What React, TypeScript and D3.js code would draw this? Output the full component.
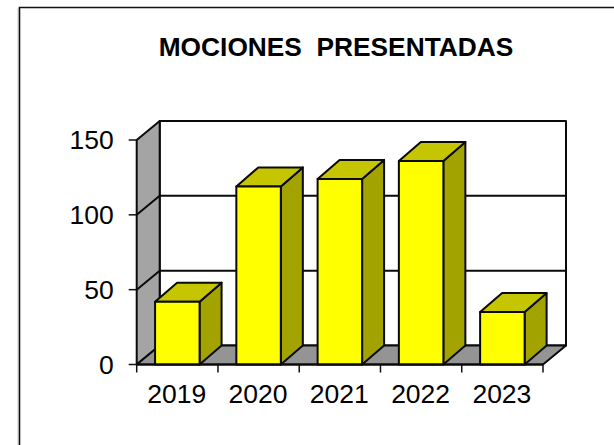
import React from "react";
import * as d3 from "d3";

const categories = ["2019", "2020", "2021", "2022", "2023"];
const values = [42, 119, 124, 136, 35];
const yTicks = [0, 50, 100, 150];
const title = "MOCIONES  PRESENTADAS";

const W = 614, H = 445;
const x0 = 136.7, x1 = 543, y0 = 364.5, y1 = 140, dx = 23, dy = 19;
const barDx = 22;
const barWidth = 44.5;
const font = "Liberation Sans, Arial, sans-serif";

export default function App() {
  const x = d3.scaleBand<string>().domain(categories).range([x0, x1]);
  const y = d3.scaleLinear().domain([0, 150]).range([y0, y1]);
  const off = (x.bandwidth() - barWidth) / 2;
  const st = { stroke: "#0a0a0a", strokeWidth: 2, strokeLinejoin: "round" as const };
  const poly = (pts: number[][]) => pts.map((p) => p.join(",")).join(" ");
  return (
    <svg width={W} height={H} style={{ position: "absolute", left: 0, top: 0, background: "#fff" }}>
      <line x1={18} x2={18} y1={8} y2={H} stroke="#c8c8c8" strokeWidth={1} />
      <path d={`M19.5,445V7.5H${W}`} fill="none" stroke="#111" strokeWidth={1.6} />
      <text x={336} y={56} textAnchor="middle" fontFamily={font} fontWeight="bold" fontSize={26.3} fill="#000" style={{ whiteSpace: "pre" }}>{title}</text>

      {/* back wall, left wall, floor */}
      <rect x={x0 + dx} y={y1 - dy} width={x1 - x0} height={y0 - y1} fill="#fff" {...st} />
      <polygon points={poly([[x0, y0], [x0, y1], [x0 + dx, y1 - dy], [x0 + dx, y0 - dy]])} fill="#a4a4a4" {...st} />
      <polygon points={poly([[x0, y0], [x1, y0], [x1 + dx, y0 - dy], [x0 + dx, y0 - dy]])} fill="#949494" {...st} />

      {/* gridlines */}
      {yTicks.slice(1, -1).map((t) => (
        <path key={t} d={`M${x0},${y(t)}L${x0 + dx},${y(t) - dy}H${x1 + dx}`} fill="none" {...st} />
      ))}

      {/* axes */}
      {yTicks.map((t) => (
        <g key={t}>
          <line x1={x0 - 8} x2={x0} y1={y(t)} y2={y(t)} stroke="#111" strokeWidth={1.5} />
          <text x={x0 - 23} y={y(t) + 9} textAnchor="end" fontFamily={font} fontSize={26.5} fill="#000">{t}</text>
        </g>
      ))}
      {d3.range(categories.length + 1).map((i) => {
        const tx = x0 + i * x.step();
        return <line key={i} x1={tx} x2={tx} y1={y0} y2={y0 + 8} stroke="#111" strokeWidth={1.5} />;
      })}
      {categories.map((c) => (
        <text key={c} x={x(c)! + x.bandwidth() / 2 - 0.5} y={402.5} textAnchor="middle" fontFamily={font} fontSize={26.5} fill="#000">{c}</text>
      ))}

      {/* bars */}
      {categories.map((c, i) => {
        const l = x(c)! + off, r = l + barWidth, t = y(values[i]);
        return (
          <g key={c}>
            <polygon points={poly([[r, y0], [r, t], [r + barDx, t - dy], [r + barDx, y0 - dy]])} fill="#a3a300" {...st} />
            <polygon points={poly([[l, t], [r, t], [r + barDx, t - dy], [l + barDx, t - dy]])} fill="#c6c600" {...st} />
            <rect x={l} y={t} width={barWidth} height={y0 - t} fill="#ffff00" {...st} />
          </g>
        );
      })}
      <line x1={x0} x2={x1} y1={y0} y2={y0} {...st} />
    </svg>
  );
}
